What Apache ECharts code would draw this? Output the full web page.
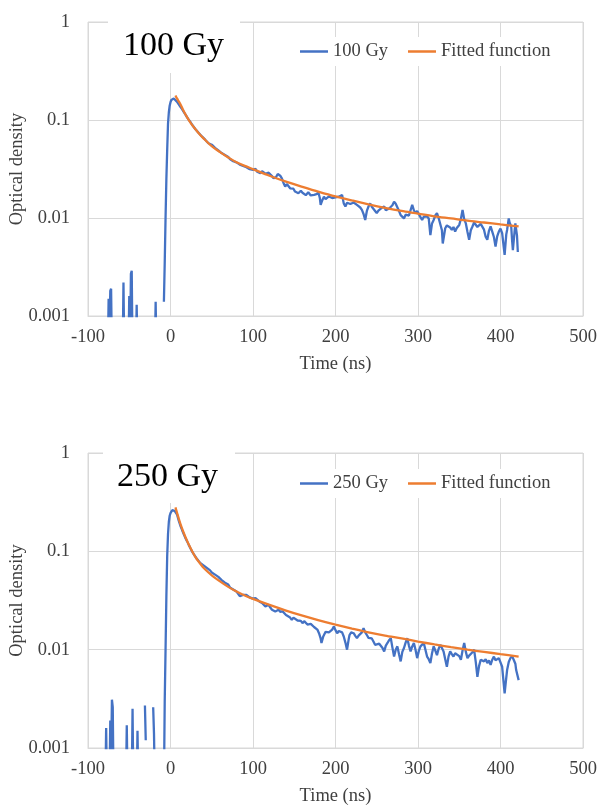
<!DOCTYPE html>
<html><head><meta charset="utf-8">
<script src="https://cdn.jsdelivr.net/npm/echarts@6/dist/echarts.min.js"></script>
<style>html,body{margin:0;padding:0;background:#fff}#c{width:598px;height:807px}</style>
</head><body><div id="c"></div>
<script>
// ---------- data ----------
const xTickMin = -100, xTickMax = 500, xTickStep = 100;
const yTickLabels = ['0.001', '0.01', '0.1', '1'];

// 100 Gy measured optical density, [time ns, OD]; null = gap (non-positive value)
const pre100 = [[-76,0.0004],[-75,0.0015],[-74,0.0006],[-73,0.0018],[-72,0.0019],[-71,0.0004],[-70,null],
  [-58,0.0004],[-57,0.0022],[-56,0.0004],[-55,null],
  [-51,0.0004],[-50,0.0016],[-49,0.0004],[-48,0.0027],[-47,0.0029],[-46,0.0004],[-45,null],
  [-42,0.0004],[-41,0.0013],[-40,0.0004],[-39,null],
  [-19,0.0004],[-18,0.0014],[-17,0.0004],[-16,null]];
const rise100 = [[-8,0.0014],[-7,0.0035],[-6,0.010],[-5,0.025],[-4,0.05],[-3,0.092],[-2,0.12],[-1,0.14],[0,0.152],[1,0.16],[2,0.165],[3,0.167],[4,0.166],[5,0.163]];
const early100 = [[6,0.160],[8,0.153],[10,0.146],[12,0.136],[14,0.129],[16,0.121],[18,0.114],[20,0.107],[22,0.101],[24,0.096],[26,0.090],[28,0.086],[30,0.081],[32,0.078],[34,0.074],[36,0.071],[38,0.068],[40,0.066],[42,0.063],[44,0.061],[46,0.058],[48,0.058],[50,0.056],[52,0.057],[54,0.052],[56,0.051],[58,0.049],[60,0.048],[62,0.046],[64,0.045],[66,0.044],[68,0.043],[70,0.042],[72,0.040],[74,0.039],[76,0.038],[78,0.039],[80,0.037],[82,0.036],[84,0.035],[86,0.034],[88,0.034],[90,0.033],[92,0.033],[94,0.032],[96,0.0315],[98,0.031],[100,0.031]];
const mid100 = [[102,0.031],[103,0.0318],[105,0.0297],[107,0.0302],[109,0.0286],[111,0.0300],[113,0.0297],[115,0.0283],[117,0.0275],[119,0.0290],[121,0.0286],[123,0.0268],[125,0.0254],[127,0.0266],[128,0.0262],[130,0.0281],[131,0.0286],[133,0.0270],[135,0.0254],[137,0.0228],[139,0.0209],[141,0.0222],[143,0.0217],[145,0.0201],[147,0.0193],[149,0.0199],[151,0.0186],[153,0.0191],[155,0.0179],[157,0.0185],[158,0.0190],[160,0.0181],[162,0.0186],[164,0.0171],[165,0.0176],[167,0.0183],[168,0.0179],[170,0.0170],[172,0.0165],[174,0.0172],[176,0.0179],[178,0.0176],[179,0.0186],[181,0.0160],[182,0.0136],[184,0.0152],[186,0.0165],[188,0.0156],[190,0.0159],[192,0.0166],[194,0.0172],[196,0.0160],[198,0.0153],[200,0.0162],[202,0.0159],[204,0.0165]];
const late100 = [[206,0.0159],[208,0.0172],[210,0.0141],[212,0.0131],[214,0.0143],[216,0.0147],[218,0.0139],[220,0.0136],[222,0.0144],[224,0.0147],[226,0.0136],[228,0.0131],[230,0.0128],[232,0.0121],[234,0.0110],[236,0.00955],[238,0.0118],[240,0.0131],[242,0.0141],[244,0.0130],[246,0.0126],[248,0.0118],[250,0.0112],[252,0.0119],[254,0.0121],[256,0.0127],[259,0.0131],[261,0.0120],[263,0.0116],[265,0.0125],[267,0.0121],[269,0.0135],[271,0.0147],[273,0.0140],[275,0.0136],[277,0.0118],[279,0.0107],[281,0.0104],[283,0.0099],[285,0.0108],[287,0.0112],[289,0.0106],[291,0.0103],[293,0.0136],[295,0.0120],[297,0.0112],[299,0.0118],[301,0.0116],[303,0.0102],[305,0.00955],[307,0.0103],[309,0.0099],[311,0.0104],[313,0.0099],[315,0.0067],[317,0.0088],[319,0.00955],[321,0.0106],[323,0.0112],[325,0.0100],[327,0.0103],[329,0.0075],[330,0.0055],[333,0.00785],[335,0.0084],[337,0.0088],[339,0.0080],[341,0.00755],[343,0.0081],[345,0.00726],[347,0.0079],[350,0.0085],[352,0.0098],[354,0.0121],[356,0.0097],[358,0.0088],[360,0.0072],[362,0.006],[364,0.0075],[366,0.0082],[368,0.0090],[370,0.0088],[372,0.0081],[374,0.00785],[376,0.0087],[378,0.0085],[380,0.0076],[382,0.00645],[384,0.006],[386,0.0074],[388,0.0082],[390,0.00726],[392,0.0064],[394,0.0051],[396,0.0065],[398,0.00726],[400,0.0078],[402,0.007],[404,0.0050],[405,0.0042],[407,0.0068],[408,0.00755],[410,0.0099],[411,0.0090],[413,0.0082],[414,0.0060],[415,0.0047],[417,0.0072],[418,0.0088],[420,0.0066],[421,0.0045]];

// 100 Gy fitted function
const tFit100 = [6,8,10,12,15,20,25,30,35,40,50,60,70,80,90,100,120,140,160,180,200,220,240,260,280,300,320,340,360,380,400,422];
const fit100 = [0.178,0.165,0.155,0.145,0.128,0.107,0.092,0.081,0.072,0.065,0.054,0.047,0.0415,0.037,0.034,0.0315,0.027,0.0235,0.0208,0.0185,0.0166,0.0151,0.0138,0.0127,0.0118,0.0111,0.0104,0.0099,0.0094,0.0090,0.0086,0.0082];

// 250 Gy measured optical density
const pre250 = [[-79,0.0004],[-78,0.0016],[-77,0.0004],[-76,null],
  [-74,0.0004],[-73,0.0019],[-72,0.0007],[-71,0.0031],[-70,0.0026],[-69,0.0004],[-68,null],
  [-54,0.0004],[-53,0.0017],[-52,0.0004],[-51,null],
  [-47,0.0004],[-46,0.0025],[-45,0.0004],[-44,null],
  [-41,0.0004],[-40,0.0015],[-39,0.0004],[-38,null],
  [-31,0.0027],[-30,0.0012],[-29,null],
  [-21,0.0026],[-20,0.0014],[-19,0.0004],[-18,null]];
const rise250 = [[-8,0.0004],[-7,0.003],[-6,0.010],[-5,0.035],[-4,0.09],[-3,0.15],[-2,0.20],[-1,0.23],[0,0.245],[1,0.255],[2,0.262],[3,0.265],[4,0.263],[5,0.258]];
const early250 = [[6,0.250],[8,0.236],[10,0.205],[12,0.182],[14,0.165],[16,0.150],[18,0.137],[20,0.127],[22,0.117],[24,0.108],[26,0.100],[28,0.094],[30,0.089],[32,0.084],[34,0.080],[36,0.076],[38,0.073],[40,0.072],[42,0.073],[44,0.068],[46,0.066],[48,0.064],[50,0.061],[52,0.060],[54,0.058],[56,0.056],[58,0.055],[60,0.053],[62,0.051],[64,0.050],[66,0.048],[68,0.047],[70,0.046],[72,0.043],[74,0.043],[76,0.041],[78,0.041],[80,0.039],[82,0.038],[84,0.035],[86,0.036],[88,0.036],[90,0.035],[92,0.036],[94,0.037],[96,0.034],[98,0.033],[100,0.033]];
const mid250 = [[103,0.0335],[105,0.0322],[108,0.0308],[111,0.0298],[113,0.0290],[115,0.0275],[117,0.0284],[119,0.0286],[121,0.0268],[123,0.0255],[125,0.0262],[127,0.0245],[129,0.0250],[131,0.0255],[133,0.0243],[134,0.0240],[136,0.0245],[137,0.0236],[140,0.0225],[142,0.0218],[145,0.0212],[147,0.0201],[149,0.0212],[151,0.0209],[154,0.0198],[156,0.0193],[158,0.0196],[160,0.0186],[162,0.0195],[164,0.0193],[166,0.0180],[168,0.0172],[170,0.0183],[172,0.0179],[174,0.0170],[176,0.0165],[178,0.0160],[180,0.0147],[182,0.0130],[183,0.0117],[185,0.0135],[186,0.0141],[188,0.0152],[190,0.0159],[192,0.0150],[194,0.0147],[196,0.0160],[198,0.0172],[200,0.0158],[202,0.0147],[204,0.0155]];
const late250 = [[206,0.0159],[208,0.0150],[210,0.0136],[212,0.0118],[214,0.0100],[216,0.0128],[217,0.0141],[219,0.0150],[222,0.0147],[224,0.0138],[226,0.0131],[228,0.0139],[230,0.0136],[232,0.0150],[234,0.0165],[236,0.0150],[238,0.0141],[240,0.0132],[242,0.0126],[244,0.0130],[246,0.0121],[248,0.0112],[250,0.0108],[253,0.0115],[255,0.0117],[257,0.0104],[259,0.0096],[261,0.0110],[263,0.0117],[265,0.0125],[267,0.0131],[269,0.0105],[271,0.0085],[273,0.0100],[275,0.0108],[277,0.0090],[279,0.0076],[281,0.0095],[283,0.0104],[285,0.0118],[287,0.0131],[289,0.0110],[291,0.0096],[293,0.0108],[295,0.0117],[297,0.0100],[299,0.0082],[301,0.0097],[303,0.0108],[305,0.0113],[307,0.0117],[309,0.0100],[311,0.0085],[313,0.0080],[315,0.0073],[317,0.0092],[319,0.0108],[321,0.0098],[323,0.0088],[325,0.0102],[327,0.0112],[329,0.0104],[331,0.0096],[333,0.0080],[335,0.0067],[337,0.0085],[339,0.0096],[341,0.0090],[343,0.0085],[345,0.0092],[347,0.0096],[350,0.0086],[352,0.0079],[354,0.0098],[356,0.0117],[358,0.0095],[360,0.0082],[362,0.0087],[364,0.0088],[366,0.0094],[368,0.0100],[370,0.0075],[372,0.0053],[374,0.0068],[376,0.0079],[378,0.0081],[380,0.0076],[382,0.0080],[384,0.0073],[386,0.0078],[388,0.0070],[390,0.0079],[392,0.0085],[394,0.0078],[396,0.0076],[398,0.0082],[400,0.0085],[402,0.0067],[405,0.0036],[407,0.0052],[408,0.0062],[410,0.0075],[412,0.0082],[414,0.0086],[416,0.0079],[418,0.0072],[419,0.0062],[422,0.0049]];

// 250 Gy fitted function
const tFit250 = [6,8,10,12,15,20,25,30,35,40,50,60,70,80,90,100,120,140,160,180,200,220,240,260,280,300,320,340,360,380,400,422];
const fit250 = [0.28,0.245,0.215,0.19,0.162,0.128,0.105,0.088,0.077,0.068,0.057,0.0495,0.0435,0.039,0.0355,0.0328,0.0285,0.025,0.0222,0.0199,0.018,0.0164,0.015,0.0139,0.013,0.0121,0.0113,0.0106,0.0100,0.0095,0.0090,0.0085];

// ---------- chart ----------
const FONT = '"Liberation Serif", "Times New Roman", serif';
const GRIDC = '#d9d9d9';
const TXT = '#404040';
const BLUE = '#4472C4', ORANGE = '#ED7D31';
function seg(...parts) { return [].concat(...parts).map(p => [p[0], p[1] == null ? '-' : p[1]]); }
function pairs(t, v) { return t.map((x, i) => [x, v[i]]); }

function xAxis(gi) {
  return {
    type: 'value', gridIndex: gi, min: xTickMin, max: xTickMax, interval: xTickStep,
    axisLine: { show: true, lineStyle: { color: GRIDC, width: 1 } },
    axisTick: { show: false },
    splitLine: { show: true, lineStyle: { color: GRIDC, width: 1 } },
    axisLabel: { margin: 12, fontFamily: FONT, fontSize: 18.5, color: TXT },
    name: 'Time (ns)', nameLocation: 'middle', nameGap: 39, nameMoveOverlap: false,
    nameTextStyle: { fontFamily: FONT, fontSize: 18.5, color: TXT }
  };
}
function yAxis(gi) {
  return {
    type: 'log', logBase: 10, gridIndex: gi, min: 0.001, max: 1,
    axisLine: { show: true, lineStyle: { color: GRIDC, width: 1 } },
    axisTick: { show: false },
    splitLine: { show: true, lineStyle: { color: GRIDC, width: 1 } },
    axisLabel: { margin: 18, fontFamily: FONT, fontSize: 18.5, color: TXT,
      formatter: v => yTickLabels[Math.round(Math.log10(v)) + 3] },
    name: 'Optical density', nameLocation: 'middle', nameGap: 61, nameMoveOverlap: false,
    nameTextStyle: { fontFamily: FONT, fontSize: 18.5, color: TXT }
  };
}
function legend(names, top) {
  return {
    data: names.map(n => ({ name: n, icon: 'rect' })), left: 292, top: top, orient: 'horizontal',
    backgroundColor: '#fff', padding: [5, 8], itemGap: 20, itemWidth: 28, itemHeight: 2.5,
    textStyle: { fontFamily: FONT, fontSize: 18.5, color: TXT }
  };
}
function line(name, gi, data, color, smooth) {
  return {
    name: name, type: 'line', xAxisIndex: gi, yAxisIndex: gi, data: data,
    symbol: 'none', showSymbol: false, smooth: smooth, connectNulls: false, clip: true,
    lineStyle: { color: color, width: 2.3 }, itemStyle: { color: color },
    animation: false
  };
}

const chart = echarts.init(document.getElementById('c'), null, { renderer: 'canvas' });
chart.setOption({
  animation: false,
  backgroundColor: '#fff',
  grid: [
    { left: 88, top: 22, width: 495, height: 294, containLabel: false, outerBoundsMode: 'none', show: true, borderColor: GRIDC, borderWidth: 1, backgroundColor: 'transparent' },
    { left: 88, top: 453, width: 495, height: 295, containLabel: false, outerBoundsMode: 'none', show: true, borderColor: GRIDC, borderWidth: 1, backgroundColor: 'transparent' }
  ],
  xAxis: [xAxis(0), xAxis(1)],
  yAxis: [yAxis(0), yAxis(1)],
  legend: [legend(['100 Gy', 'Fitted function'], 37), legend(['250 Gy', 'Fitted function'], 469)],
  series: [
    line('100 Gy', 0, seg(pre100, rise100, early100, mid100, late100), BLUE, false),
    line('Fitted function', 0, pairs(tFit100, fit100), ORANGE, 0.3),
    line('250 Gy', 1, seg(pre250, rise250, early250, mid250, late250), BLUE, false),
    line('Fitted function', 1, pairs(tFit250, fit250), ORANGE, 0.3)
  ],
  graphic: [
    { type: 'rect', left: 108, top: 20, shape: { width: 132, height: 53 }, style: { fill: '#fff' }, z: 100 },
    { type: 'text', left: 123, top: 29, style: { text: '100 Gy', font: '34px "Liberation Serif"', fill: '#000' }, z: 101 },
    { type: 'rect', left: 103, top: 451, shape: { width: 132, height: 52 }, style: { fill: '#fff' }, z: 100 },
    { type: 'text', left: 117, top: 460, style: { text: '250 Gy', font: '34px "Liberation Serif"', fill: '#000' }, z: 101 }
  ]
});
</script></body></html>
